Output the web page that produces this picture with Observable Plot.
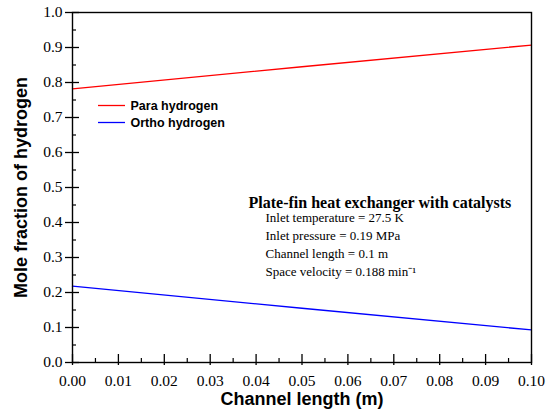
<!DOCTYPE html>
<html>
<head>
<meta charset="utf-8">
<script src="https://cdn.jsdelivr.net/npm/d3@7"></script>
<script src="https://cdn.jsdelivr.net/npm/@observablehq/plot@0.6"></script>
<style>
  body { margin: 0; background: #fff; }
</style>
</head>
<body>
<div id="chart"></div>
<script>
// ---- data ----
const channelLength = [0.00, 0.05, 0.10];
const paraFraction  = [0.782, 0.845, 0.907];
const orthoFraction = [0.218, 0.155, 0.093];

const seriesNames  = ["Para hydrogen", "Ortho hydrogen"];
const seriesColors = ["#ff0000", "#0000ff"];

const xTicks = [0.00, 0.01, 0.02, 0.03, 0.04, 0.05, 0.06, 0.07, 0.08, 0.09, 0.10];
const xTickLabels = ["0.00","0.01","0.02","0.03","0.04","0.05","0.06","0.07","0.08","0.09","0.10"];
const xMinorTicks = [0.005, 0.015, 0.025, 0.035, 0.045, 0.055, 0.065, 0.075, 0.085, 0.095];
const yTicks = [0.0, 0.1, 0.2, 0.3, 0.4, 0.5, 0.6, 0.7, 0.8, 0.9, 1.0];
const yTickLabels = ["0.0","0.1","0.2","0.3","0.4","0.5","0.6","0.7","0.8","0.9","1.0"];
const yMinorTicks = [0.05, 0.15, 0.25, 0.35, 0.45, 0.55, 0.65, 0.75, 0.85, 0.95];

const xTitle = "Channel length (m)";
const yTitle = "Mole fraction of hydrogen";
const noteTitle = "Plate-fin heat exchanger with catalysts";
const noteLines = [
  "Inlet temperature = 27.5 K",
  "Inlet pressure = 0.19 MPa",
  "Channel length = 0.1 m",
  "Space velocity = 0.188 min\u207B\u00B9"
];

// ---- tables ----
const para  = channelLength.map((x, i) => ({x, y: paraFraction[i]}));
const ortho = channelLength.map((x, i) => ({x, y: orthoFraction[i]}));
const xTickTable = xTicks.map((v, i) => ({v, label: xTickLabels[i]}));
const yTickTable = yTicks.map((v, i) => ({v, label: yTickLabels[i]}));

const serif = "Liberation Serif";
const sans  = "Liberation Sans";

const legendLineDy = [-82, -65];
const legendTextDy = [93, 110];

const chart = Plot.plot({
  width: 553,
  height: 418,
  marginLeft: 72,
  marginRight: 22,
  marginTop: 12,
  marginBottom: 56,
  style: {background: "#fff", color: "#000"},
  x: {domain: [0, 0.1], label: null, axis: null},
  y: {domain: [0, 1], label: null, axis: null},
  marks: [
    // data lines
    Plot.line(para,  {x: "x", y: "y", stroke: seriesColors[0], strokeWidth: 1.3}),
    Plot.line(ortho, {x: "x", y: "y", stroke: seriesColors[1], strokeWidth: 1.3}),

    // frame
    Plot.frame({stroke: "#000", strokeWidth: 1.4}),

    // y ticks (major crossing, minor inside)
    Plot.axisY({ticks: yTicks, tickSize: 14, dx: 7, text: null, label: null, strokeWidth: 1.3, stroke: "#000"}),
    Plot.axisY({ticks: yMinorTicks, tickSize: 4, dx: 4, text: null, label: null, strokeWidth: 1.2, stroke: "#000"}),
    Plot.text(yTickTable, {y: "v", text: "label", frameAnchor: "left", dx: -10, textAnchor: "end",
                           lineAnchor: "middle", fontSize: 15.5, fontFamily: serif, fill: "#000"}),

    // x ticks
    Plot.axisX({ticks: xTicks, tickSize: 11, dy: -8, text: null, label: null, strokeWidth: 1.3, stroke: "#000"}),
    Plot.axisX({ticks: xMinorTicks, tickSize: 4, dy: -4, text: null, label: null, strokeWidth: 1.2, stroke: "#000"}),
    Plot.text(xTickTable, {x: "v", text: "label", frameAnchor: "bottom", dy: 12, textAnchor: "middle",
                           lineAnchor: "top", fontSize: 15.5, fontFamily: serif, fill: "#000"}),

    // axis titles
    Plot.text([xTitle], {text: d => d, frameAnchor: "bottom", dy: 42, lineAnchor: "bottom", textAnchor: "middle",
                         fontSize: 18, fontWeight: "bold", fontFamily: sans, fill: "#000"}),
    Plot.text([yTitle], {text: d => d, frameAnchor: "left", dx: -51, rotate: -90, lineAnchor: "middle", textAnchor: "middle",
                         fontSize: 18, fontWeight: "bold", fontFamily: sans, fill: "#000"}),

    // legend
    ...seriesNames.map((name, i) =>
      Plot.ruleY([name], {y: null, dy: legendLineDy[i], insetLeft: 26, insetRight: 406,
                          stroke: seriesColors[i], strokeWidth: 1.3})),
    ...seriesNames.map((name, i) =>
      Plot.text([name], {text: d => d, frameAnchor: "top-left", dx: 58, dy: legendTextDy[i],
                         textAnchor: "start", lineAnchor: "middle",
                         fontSize: 12.5, fontWeight: "bold", fontFamily: sans, fill: "#000"})),

    // annotation
    Plot.text([noteTitle], {text: d => d, frameAnchor: "top-left", dx: 176, dy: 195,
                            textAnchor: "start", lineAnchor: "bottom",
                            fontSize: 16, fontWeight: "bold", fontFamily: serif, fill: "#000"}),
    ...noteLines.map((line, i) =>
      Plot.text([line], {text: d => d, frameAnchor: "top-left", dx: 193, dy: 209 + i * 18.3,
                         textAnchor: "start", lineAnchor: "bottom",
                         fontSize: 13, fontFamily: serif, fill: "#000"}))
  ]
});

document.getElementById("chart").appendChild(chart);
</script>
</body>
</html>
